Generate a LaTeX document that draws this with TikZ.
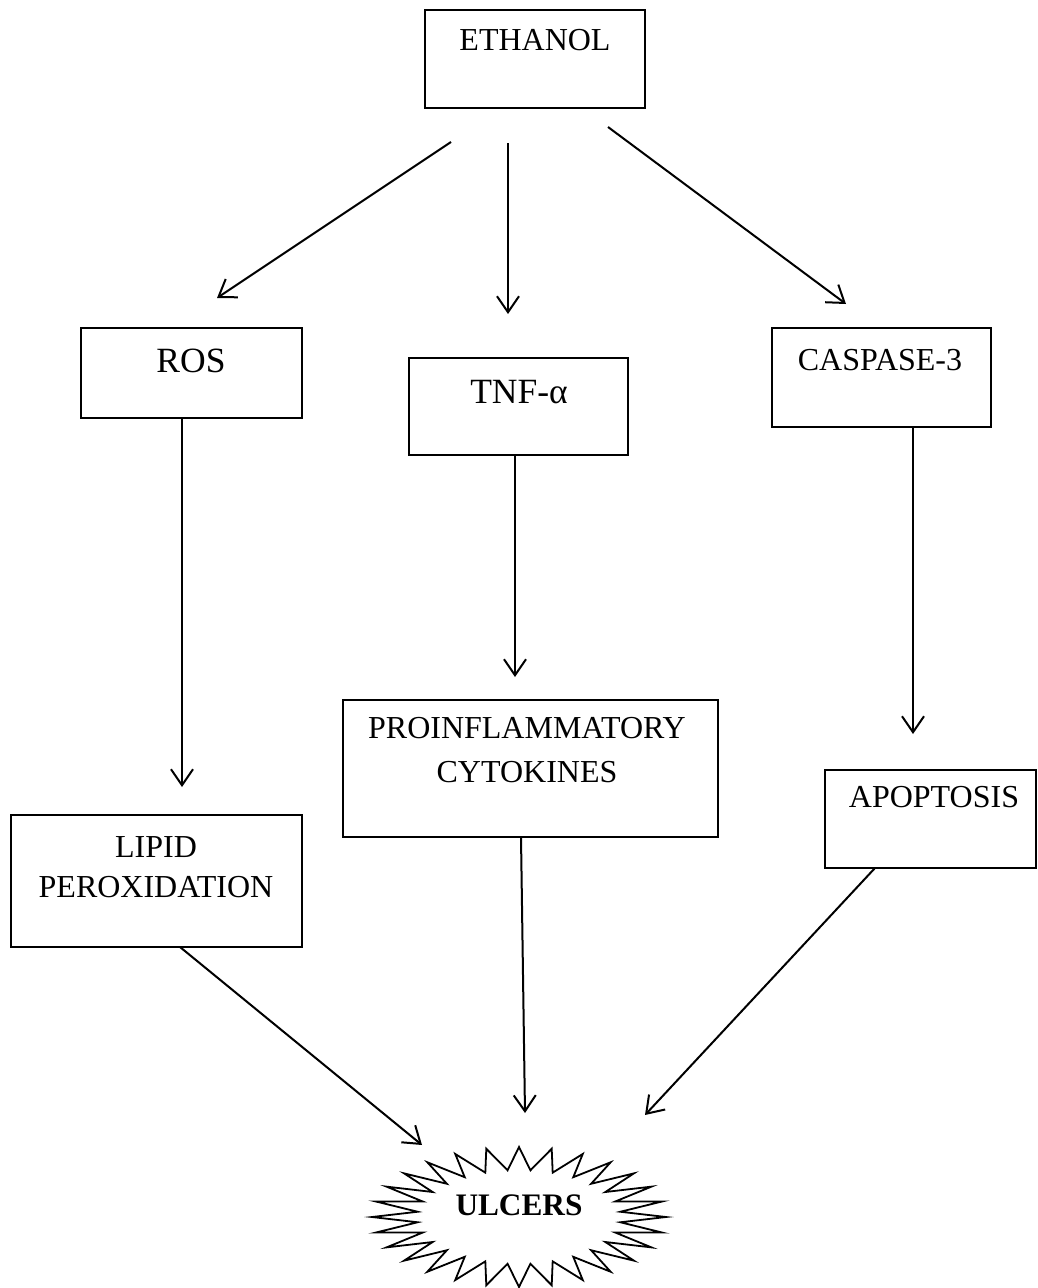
\documentclass[tikz,border=0pt]{standalone}
\usepackage{fontspec}
\setmainfont{Liberation Serif}
\usetikzlibrary{arrows.meta}
\begin{document}
\begin{tikzpicture}[x=1pt,y=-1pt,
  box/.style={draw, line width=2pt, inner sep=0pt},
  lbl/.style={anchor=base, inner sep=0pt, align=center, font=\fontsize{32}{40}\selectfont},
  big/.style={anchor=base, inner sep=0pt, font=\fontsize{35.5}{44}\selectfont},
  arr/.style={line width=2pt, -{Straight Barb[length=16pt,width=22pt]}}]
\useasboundingbox (0,0) rectangle (1038,1288);
% boxes
\node[box, minimum width=220pt, minimum height=98pt] (eth) at (535,59) {};
\node[box, minimum width=221pt, minimum height=90pt] (ros) at (191.5,373) {};
\node[box, minimum width=219pt, minimum height=97pt] (tnf) at (518.5,406.5) {};
\node[box, minimum width=219pt, minimum height=99pt] (casp) at (881.5,377.5) {};
\node[box, minimum width=291pt, minimum height=132pt] (lip) at (156.5,881) {};
\node[box, minimum width=375pt, minimum height=137pt] (pro) at (530.5,768.5) {};
\node[box, minimum width=211pt, minimum height=98pt] (apo) at (930.5,819) {};
% labels
\node[lbl] (ethT) at (535,50) {ETHANOL};
\node[big] (rosT) at (191,372) {ROS};
\node[big] (tnfT) at (519,403) {TNF-α};
\node[lbl] (caspT) at (880,370) {CASPASE-3};
\node[lbl] (lipT) at (156,897) {LIPID\\PEROXIDATION};
\node[lbl] (proT) at (527,782) {PROINFLAMMATORY\\[4pt]CYTOKINES};
\node[lbl] (apoT) at (934,807) {APOPTOSIS};
% starburst
\node[anchor=base, inner sep=0pt, font=\fontsize{31.3}{38}\selectfont\bfseries] (ulc) at (519,1215) {ULCERS};
\draw[line width=1.8pt, line join=miter] (666,1217)
  \foreach \k in {1,...,55} { -- ({519+ifthenelse(mod(\k,2)==0,147,102)*cos(\k*6.4285714)}, {1217+ifthenelse(mod(\k,2)==0,70,47)*sin(\k*6.4285714)}) } -- cycle;
% arrow end points
\coordinate (e1) at (451,142);
\coordinate (e2) at (508,143);
\coordinate (e3) at (608,127);
\coordinate (r1) at (217,298);
\coordinate (t1) at (508,314);
\coordinate (c1) at (846,304);
\coordinate (rs) at (182,418);
\coordinate (re) at (182,787);
\coordinate (ts) at (515,455);
\coordinate (te) at (515,677);
\coordinate (cs) at (913,427);
\coordinate (ce) at (913,734);
\coordinate (ls) at (180,947);
\coordinate (le) at (422,1145);
\coordinate (ps) at (521,837);
\coordinate (pe) at (525,1113);
\coordinate (as) at (875,868);
\coordinate (ae) at (645,1115);
\draw[arr] (e1) -- (r1);
\draw[arr] (e2) -- (t1);
\draw[arr] (e3) -- (c1);
\draw[arr] (rs) -- (re);
\draw[arr] (ts) -- (te);
\draw[arr] (cs) -- (ce);
\draw[arr] (ls) -- (le);
\draw[arr] (ps) -- (pe);
\draw[arr] (as) -- (ae);
\end{tikzpicture}
\end{document}
